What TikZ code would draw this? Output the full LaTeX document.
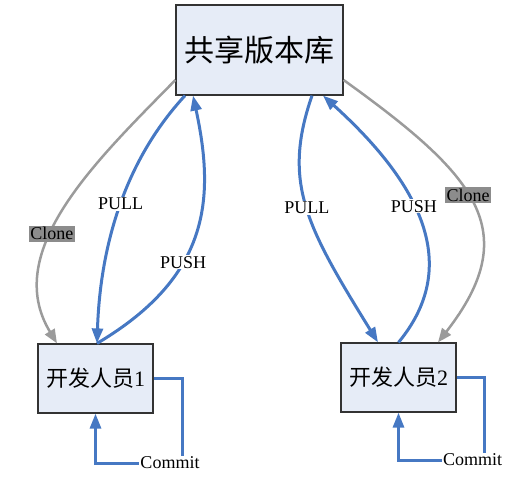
\documentclass[tikz,border=0pt]{standalone}
\usepackage{fontspec}
\setmainfont{Liberation Serif}
\newfontfamily\cjk{Noto Sans CJK SC}
\usepackage{xcolor}
\usepackage{tikz}
\usetikzlibrary{arrows.meta, positioning}

\definecolor{linkblue}{RGB}{70,120,195}
\definecolor{boxfill}{RGB}{230,236,247}
\definecolor{clonegray}{RGB}{155,155,155}
\definecolor{tagfill}{RGB}{140,140,140}

\begin{document}
\begin{tikzpicture}[x=1pt, y=-1pt,
    box/.style={draw=black!80, fill=boxfill, line width=1.2pt, inner sep=0pt},
    sync/.style={linkblue, line width=3pt, -{Triangle[length=15pt,width=11pt]}},
    clone/.style={clonegray, line width=2.5pt, -{Triangle[length=14pt,width=11pt]}},
    lbl/.style={fill=white, text=black, inner sep=1pt, font=\fontsize{18}{20}\selectfont},
    tag/.style={fill=tagfill, text=black, inner sep=1.5pt, font=\fontsize{18}{20}\selectfont}]
  \useasboundingbox (0,0) rectangle (530,484);
  % Repository and developers
  \node[box, minimum width=167pt, minimum height=90pt, font=\cjk\fontsize{30}{34}\selectfont] (repo) at (259.5,50) {共享版本库};
  \node[box, minimum width=115pt, minimum height=69pt, font=\fontsize{22}{26}\selectfont] (dev1) at (95.5,378.5) {{\cjk 开发人员}1};
  \node[box, minimum width=115pt, minimum height=69pt, font=\fontsize{22}{26}\selectfont] (dev2) at (398.5,377.5) {{\cjk 开发人员}2};
  % Clone
  \draw[clone] ([yshift=-30pt]repo.west) .. controls (97,160) and (1,251) .. ([xshift=-38.5pt]dev1.north) node[tag, pos=0.6] (clone1) {Clone};
  \draw[clone] ([yshift=-30pt]repo.east) .. controls (475,174.6) and (525.5,230) .. ([xshift=39.5pt]dev2.north) node[tag, pos=0.46] (clone2) {Clone};
  % Pull / push, left
  \draw[sync] ([xshift=-74.5pt]repo.south) .. controls (121,165) and (100,253) .. ([xshift=1.5pt]dev1.north) node[lbl, pos=0.47] (pull1) {PULL};
  \draw[sync] ([xshift=1.5pt]dev1.north) .. controls (209,277) and (215.5,200) .. ([xshift=-66.5pt]repo.south) node[lbl, pos=0.38] (push1) {PUSH};
  % Pull / push, right
  \draw[sync] ([xshift=52.5pt]repo.south) .. controls (282,182.5) and (306,226) .. ([xshift=-20.5pt]dev2.north) node[lbl, pos=0.5] (pull2) {PULL};
  \draw[sync] (dev2.north) .. controls (455,274) and (434,196) .. ([xshift=63.5pt]repo.south) node[lbl, pos=0.6] (push2) {PUSH};
  % Commit loops
  \coordinate (c1) at (182,463);
  \coordinate (c2) at (484,460);
  \draw[sync] (dev1.east) -| (c1) -| (dev1.south);
  \draw[sync] (dev2.east) -| (c2) -| (dev2.south);
  \node[lbl] (commit1) at (170,463) {Commit};
  \node[lbl] (commit2) at (472.5,460) {Commit};
\end{tikzpicture}
\end{document}
